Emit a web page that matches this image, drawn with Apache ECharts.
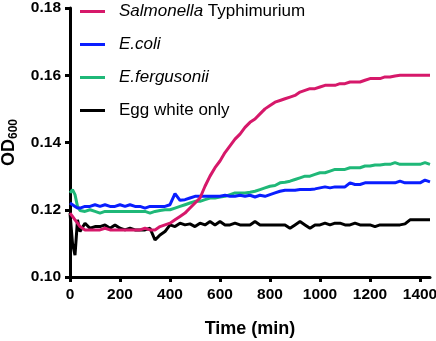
<!DOCTYPE html>
<html>
<head>
<meta charset="utf-8">
<script src="https://cdn.jsdelivr.net/npm/echarts@6/dist/echarts.min.js"></script>
<style>
  html, body { margin: 0; padding: 0; background: #fff; }
  #chart { width: 436px; height: 341px; }
</style>
</head>
<body>
<div id="chart"></div>
<script>
const times = [0, 10, 20, 30, 40, 60, 80, 100, 120, 140, 160, 180, 200, 220, 240, 260, 280, 300, 320, 340,
  360, 380, 400, 420, 440, 460, 480, 500, 520, 540, 560, 580, 600, 620, 640, 660, 680, 700, 720, 740,
  760, 780, 800, 820, 840, 860, 880, 900, 920, 940, 960, 980, 1000, 1020, 1040, 1060, 1080, 1100, 1120, 1140,
  1160, 1180, 1200, 1220, 1240, 1260, 1280, 1300, 1320, 1340, 1360, 1380, 1400, 1420, 1440]

const salmonella = [0.119, 0.118, 0.117, 0.116, 0.115, 0.114, 0.114, 0.114, 0.114, 0.1145, 0.114, 0.114, 0.114, 0.114, 0.114, 0.114, 0.114, 0.1145, 0.114, 0.114,
  0.115, 0.1155, 0.116, 0.117, 0.118, 0.119, 0.1205, 0.122, 0.1235, 0.127, 0.130, 0.1325, 0.1345, 0.137, 0.139, 0.141, 0.1425, 0.1445, 0.146, 0.147,
  0.1485, 0.150, 0.151, 0.152, 0.1525, 0.153, 0.1535, 0.154, 0.155, 0.1555, 0.156, 0.156, 0.1565, 0.157, 0.157, 0.157, 0.1575, 0.1575, 0.158, 0.158,
  0.158, 0.1585, 0.159, 0.159, 0.159, 0.1595, 0.1595, 0.1598, 0.160, 0.160, 0.160, 0.160, 0.160, 0.160, 0.160]

const ecoli = [0.122, 0.1215, 0.121, 0.1205, 0.1205, 0.121, 0.121, 0.1215, 0.121, 0.1215, 0.121, 0.121, 0.1215, 0.121, 0.1215, 0.121, 0.121, 0.1205, 0.121, 0.121,
  0.121, 0.121, 0.1215, 0.1248, 0.1228, 0.123, 0.1235, 0.124, 0.124, 0.124, 0.124, 0.124, 0.124, 0.1243, 0.124, 0.124, 0.1243, 0.124, 0.1243, 0.1238,
  0.1243, 0.124, 0.1245, 0.125, 0.1255, 0.1258, 0.1258, 0.1258, 0.126, 0.126, 0.126, 0.1262, 0.1265, 0.1268, 0.1265, 0.1268, 0.1268, 0.1268, 0.128, 0.1275,
  0.1275, 0.128, 0.128, 0.128, 0.128, 0.128, 0.128, 0.128, 0.1285, 0.128, 0.128, 0.128, 0.128, 0.1288, 0.1283]

const fergusonii = [0.125, 0.126, 0.1245, 0.121, 0.1198, 0.1195, 0.120, 0.1195, 0.119, 0.1195, 0.1195, 0.1195, 0.1195, 0.1195, 0.1195, 0.1195, 0.1195, 0.1195, 0.119, 0.1195,
  0.1198, 0.120, 0.120, 0.1205, 0.121, 0.1215, 0.122, 0.1225, 0.1225, 0.123, 0.1235, 0.1235, 0.1238, 0.124, 0.1245, 0.125, 0.125, 0.125, 0.1252, 0.1255,
  0.126, 0.1265, 0.127, 0.1272, 0.128, 0.1282, 0.1285, 0.129, 0.1295, 0.130, 0.130, 0.1305, 0.131, 0.131, 0.1315, 0.132, 0.132, 0.132, 0.1325, 0.1325,
  0.1325, 0.133, 0.133, 0.1333, 0.1333, 0.1335, 0.1335, 0.134, 0.1335, 0.1335, 0.1335, 0.1335, 0.1335, 0.134, 0.1335]

const eggWhite = [0.119, 0.110, 0.1065, 0.117, 0.1135, 0.116, 0.1145, 0.115, 0.115, 0.1155, 0.1145, 0.1155, 0.1145, 0.114, 0.1145, 0.114, 0.114, 0.114, 0.1145, 0.111,
  0.1125, 0.1135, 0.1155, 0.115, 0.116, 0.1155, 0.1158, 0.115, 0.116, 0.1155, 0.1165, 0.1155, 0.1165, 0.1155, 0.1155, 0.116, 0.1155, 0.1155, 0.1155, 0.1165,
  0.1155, 0.1155, 0.1155, 0.1155, 0.1155, 0.1155, 0.1145, 0.1155, 0.1165, 0.1155, 0.1145, 0.1155, 0.1155, 0.116, 0.1155, 0.116, 0.116, 0.1155, 0.1155, 0.116,
  0.1155, 0.1155, 0.1155, 0.115, 0.1155, 0.1155, 0.1155, 0.1155, 0.1155, 0.1158, 0.117, 0.117, 0.117, 0.117, 0.117]

const seriesNames = ['Salmonella Typhimurium', 'E.coli', 'E.fergusonii', 'Egg white only']
const seriesColors = ['#d6186a', '#0a1eff', '#1fb878', '#000000']
const seriesValues = [salmonella, ecoli, fergusonii, eggWhite]

const FONT = 'Liberation Sans, Arial, sans-serif'

const myChart = echarts.init(document.getElementById('chart'), null, { renderer: 'canvas' })

// legend: italic species names
const legendLabel = (name) => {
  if (name === 'Salmonella Typhimurium') return '{i|Salmonella} Typhimurium'
  if (name === 'Egg white only') return name
  return '{i|' + name + '}'
}

myChart.setOption({
  animation: false,
  grid: { left: 70, right: 6, top: 8, bottom: 64, outerBoundsMode: 'none' },
  legend: {
    orient: 'vertical',
    left: 80,
    top: 3,
    padding: 0,
    itemGap: 16,
    itemWidth: 25,
    itemHeight: 3,
    icon: 'rect',
    data: seriesNames,
    formatter: legendLabel,
    textStyle: {
      fontFamily: FONT,
      fontSize: 17,
      color: '#000',
      padding: [0, 0, 0, 9],
      rich: { i: { fontFamily: FONT, fontSize: 17, fontStyle: 'italic', color: '#000' } },
    },
  },
  xAxis: {
    type: 'value',
    min: 0,
    max: 1440,
    interval: 200,
    name: 'Time (min)',
    nameLocation: 'middle',
    nameGap: 43,
    nameTextStyle: { fontFamily: FONT, fontSize: 18, fontWeight: 'bold', color: '#000' },
    axisLine: { lineStyle: { color: '#000', width: 3 } },
    axisTick: { length: 5, lineStyle: { color: '#000', width: 3 } },
    axisLabel: {
      fontFamily: FONT, fontSize: 15.5, fontWeight: 'bold', color: '#000', margin: 10,
      formatter: (v) => String(v),
    },
    splitLine: { show: false },
  },
  yAxis: {
    type: 'value',
    min: 0.10,
    max: 0.18,
    interval: 0.02,
    name: '{a|OD}{b|600}',
    nameLocation: 'middle',
    nameGap: 50,
    nameRotate: 90,
    nameTextStyle: {
      rich: {
        a: { fontFamily: FONT, fontSize: 18, fontWeight: 'bold', color: '#000' },
        b: { fontFamily: FONT, fontSize: 12, fontWeight: 'bold', color: '#000', padding: [10, 0, 0, 0] },
      },
    },
    axisLine: { show: true, lineStyle: { color: '#000', width: 3 } },
    axisTick: { show: true, length: 5, lineStyle: { color: '#000', width: 3 } },
    axisLabel: {
      fontFamily: FONT, fontSize: 15.5, fontWeight: 'bold', color: '#000', margin: 9,
      formatter: (v) => v.toFixed(2),
    },
    splitLine: { show: false },
  },
  series: seriesNames.map((name, k) => ({
    name,
    type: 'line',
    data: times.map((t, i) => [t, seriesValues[k][i]]),
    showSymbol: false,
    symbol: 'none',
    z: 10 - k,
    color: seriesColors[k],
    lineStyle: { color: seriesColors[k], width: 3 },
  })),
})
</script>
</body>
</html>
